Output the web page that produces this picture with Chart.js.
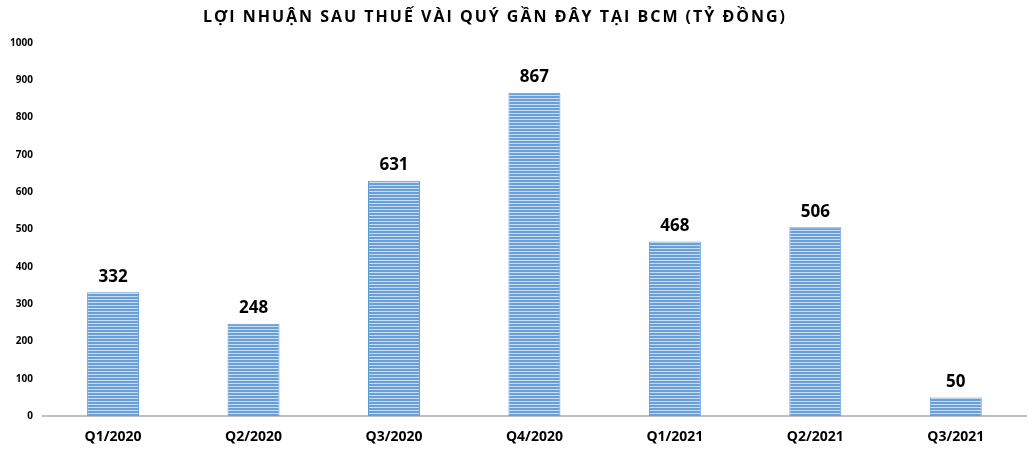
<!DOCTYPE html>
<html>
<head>
<meta charset="utf-8">
<script src="https://cdn.jsdelivr.net/npm/chart.js@4"></script>
<style>
  html, body { margin: 0; padding: 0; background: #fff; }
  #wrap { position: relative; width: 1033px; height: 452px; }
  #tieude {
    position: absolute; left: 0; top: 5px; width: 990px; text-align: center;
    font-family: "Open Sans", sans-serif; font-weight: bold; font-size: 16px;
    letter-spacing: 2px; color: #000;
  }
</style>
</head>
<body>
<div id="wrap">
  <div id="tieude">LỢI NHUẬN SAU THUẾ VÀI QUÝ GẦN ĐÂY TẠI BCM (TỶ ĐỒNG)</div>
  <canvas id="grafico" width="1033" height="452"></canvas>
</div>
<script>
// Dữ liệu lợi nhuận theo quý (tỷ đồng)
const quy = ["Q1/2020", "Q2/2020", "Q3/2020", "Q4/2020", "Q1/2021", "Q2/2021", "Q3/2021"];
const loiNhuan = [332, 248, 631, 867, 468, 506, 50];
const mocTruc = [0, 100, 200, 300, 400, 500, 600, 700, 800, 900, 1000];

// Hoa văn sọc ngang cho cột
function taoSoc() {
    const c = document.createElement("canvas");
    c.width = 4;
    c.height = 3;
    const g = c.getContext("2d");
    g.fillStyle = "#6a9fd6";
    g.fillRect(0, 0, 4, 2);
    g.fillStyle = "#c9def3";
    g.fillRect(0, 2, 4, 1);
    return g.createPattern(c, "repeat");
}

// Ghi giá trị phía trên mỗi cột
const nhanGiaTri = {
    id: "nhanGiaTri",
    afterDatasetsDraw(chart) {
        const ctx = chart.ctx;
        const meta = chart.getDatasetMeta(0);
        ctx.save();
        ctx.font = "bold 17px 'Open Sans', sans-serif";
        ctx.fillStyle = "#000";
        ctx.textAlign = "center";
        ctx.textBaseline = "bottom";
        meta.data.forEach((bar, i) => {
            ctx.fillText(loiNhuan[i], bar.x, bar.y - 7);
        });
        ctx.restore();
    }
};

const ctx = document.getElementById("grafico").getContext("2d");
new Chart(ctx, {
    type: "bar",
    data: {
        labels: quy,
        datasets: [{
            data: loiNhuan,
            backgroundColor: taoSoc(),
            borderColor: "#5b9bd5",
            borderWidth: 1,
            categoryPercentage: 1,
            barPercentage: 0.37
        }]
    },
    options: {
        responsive: false,
        animation: false,
        layout: { padding: { top: 43, left: 0, right: 7, bottom: -5 } },
        plugins: {
            legend: { display: false },
            tooltip: { enabled: false }
        },
        scales: {
            x: {
                grid: { display: false, drawTicks: false },
                border: { color: "#bfbfbf", width: 2 },
                ticks: {
                    color: "#000",
                    padding: 12,
                    font: { family: "'Open Sans', sans-serif", weight: "bold", size: 14 }
                }
            },
            y: {
                min: 0,
                max: 1000,
                afterBuildTicks(axis) {
                    axis.ticks = mocTruc.map(v => ({ value: v }));
                },
                grid: { display: false, drawTicks: false },
                border: { display: false },
                ticks: {
                    color: "#000",
                    padding: 10,
                    callback: v => String(v),
                    font: { family: "'Open Sans', sans-serif", weight: "bold", size: 10 }
                }
            }
        }
    },
    plugins: [nhanGiaTri]
});
</script>
</body>
</html>
